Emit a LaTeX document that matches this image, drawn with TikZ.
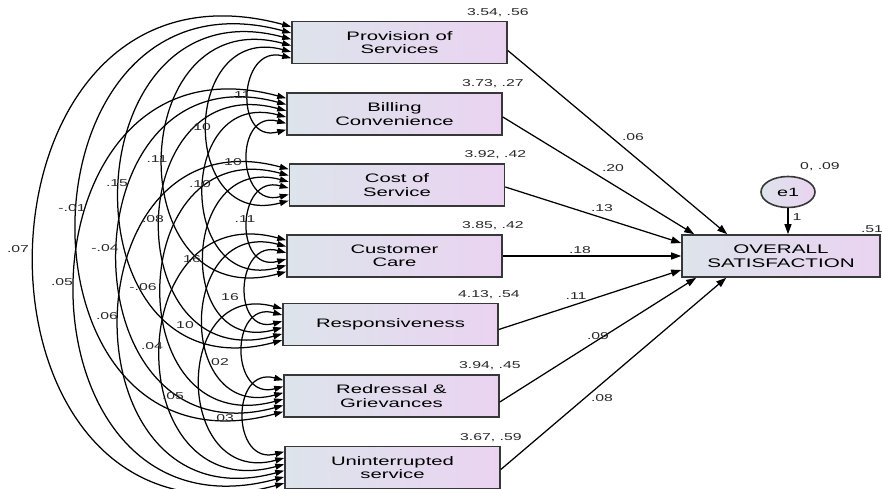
\documentclass[tikz,border=0pt]{standalone}
\usepackage{fontspec}
\setmainfont{Liberation Sans}
\newfontfamily\boxfont[FakeStretch=1.65]{Liberation Sans}
\newfontfamily\numfont[FakeStretch=1.58]{Liberation Sans}
\usetikzlibrary{arrows.meta,calc,shapes.geometric}
\definecolor{boxL}{RGB}{221,228,235}
\definecolor{boxR}{RGB}{234,211,241}
\definecolor{edgec}{RGB}{55,55,55}
\definecolor{lbl}{RGB}{40,40,40}
\begin{document}
\begin{tikzpicture}[x=1pt,y=-1pt,
  var/.style={draw=edgec, line width=1.6pt, left color=boxL, right color=boxR,
    minimum width=215pt, minimum height=42pt, inner sep=0pt, align=center,
    font=\boxfont\fontsize{12.3}{13.5}\selectfont},
  num/.style={font=\numfont\fontsize{10}{11}\selectfont, text=lbl, inner sep=0pt},
  reg/.style={line width=1.25pt, -{Triangle[length=10pt,width=7pt]}},
  cov/.style={line width=1.25pt, {Triangle[length=9pt,width=6pt]}-{Triangle[length=9pt,width=6pt]}},
]
\useasboundingbox (0,0) rectangle (882,489);

% observed variables
\node[var] (b1) at (399.5,42.5) {Provision of\\Services};
\node[var] (b2) at (394.5,114) {Billing\\Convenience};
\node[var] (b3) at (397,185) {Cost of\\Service};
\node[var] (b4) at (394.5,256) {Customer\\Care};
\node[var] (b5) at (390.5,324.5) {Responsiveness};
\node[var] (b6) at (391.5,396) {Redressal \&\\Grievances};
\node[var] (b7) at (392.5,467.5) {Uninterrupted\\service};

% outcome
\node[var, minimum width=198pt, font=\boxfont\fontsize{12.5}{13.5}\selectfont] (os) at (781,256) {OVERALL\\SATISFACTION};
\node[ellipse, draw=edgec, line width=1.6pt, left color=boxL, right color=boxR,
  minimum width=54pt, minimum height=31pt, inner sep=0pt,
  font=\boxfont\fontsize{12}{13.5}\selectfont] (e1) at (788,192) {e1};

% means, variances
\node[num, anchor=east] (m1) at ($(b1.north east)+(21,-8.5)$) {3.54, .56};
\node[num, anchor=east] (m2) at ($(b2.north east)+(21,-8.5)$) {3.73, .27};
\node[num, anchor=east] (m3) at ($(b3.north east)+(21,-8.5)$) {3.92, .42};
\node[num, anchor=east] (m4) at ($(b4.north east)+(21,-8.5)$) {3.85, .42};
\node[num, anchor=east] (m5) at ($(b5.north east)+(21,-8.5)$) {4.13, .54};
\node[num, anchor=east] (m6) at ($(b6.north east)+(21,-8.5)$) {3.94, .45};
\node[num, anchor=east] (m7) at ($(b7.north east)+(21,-8.5)$) {3.67, .59};
\node[num] (me1) at (820,167) {0, .09};
\node[num] (r2) at (872,229) {.51};

% regression paths
\draw[reg] ($(b1.east)+(0,8)$) -- ($(os.north west)+(46,0)$);
\draw[reg] ($(b2.east)+(0,3)$) -- ($(os.north west)+(13,0)$);
\draw[reg] ($(b3.east)+(0,2)$) -- ($(os.west)+(0,-13)$);
\draw[reg] (b4.east) -- (os.west);
\draw[reg] ($(b5.east)+(0,5)$) -- ($(os.west)+(0,14)$);
\draw[reg] ($(b6.east)+(0,6)$) -- ($(os.south west)+(15,0)$);
\draw[reg] ($(b7.east)+(0,2)$) -- ($(os.south west)+(45,0)$);
\draw[reg] (e1.south) -- (e1.south |- os.north);

\node[num] (w1) at (633,137) {.06};
\node[num] (w2) at (613,168) {.20};
\node[num] (w3) at (602,208) {.13};
\node[num] (w4) at (580,250) {.18};
\node[num] (w5) at (576,296) {.11};
\node[num] (w6) at (598,336) {.09};
\node[num] (w7) at (602,398) {.08};
\node[num] (we) at (797,217) {1};

% covariances
\foreach \i in {1,...,6}{
  \foreach \j in {2,...,7}{
    \ifnum\j>\i
      \pgfmathsetmacro\ya{6+(7-\j)*6.3}
      \pgfmathsetmacro\yb{6+(6-\i)*6.3}
      \draw[cov] let \p1=($(b\i.north west)+(0,\ya)$), \p2=($(b\j.north west)+(0,\yb)$), \n1={\y1-\y2} in
        (\p1) .. controls +(-0.74*\n1,0.2*\n1) and +(-0.74*\n1,-0.2*\n1) .. (\p2);
    \fi
  }
}

\node[num] (c12) at (240,95) {.11};
\node[num] (c13) at (200,127) {.10};
\node[num] (c23) at (233,162) {10};
\node[num] (c14) at (157,159) {.11};
\node[num] (c15) at (117,183) {.15};
\node[num] (c24) at (200,184) {.10};
\node[num] (c16) at (72,208) {-.01};
\node[num] (c25) at (153,219) {.08};
\node[num] (c34) at (245,219) {.11};
\node[num] (c17) at (18,249) {.07};
\node[num] (c26) at (105,248) {-.04};
\node[num] (c35) at (192,259) {16};
\node[num] (c27) at (62,282) {.05};
\node[num] (c36) at (143,287) {-.06};
\node[num] (c45) at (230,297) {16};
\node[num] (c37) at (107,316) {.06};
\node[num] (c46) at (185,325) {10};
\node[num] (c47) at (152,346) {.04};
\node[num] (c56) at (220,362) {02};
\node[num] (c57) at (173,396) {.05};
\node[num] (c67) at (223,418) {.03};
\end{tikzpicture}
\end{document}
